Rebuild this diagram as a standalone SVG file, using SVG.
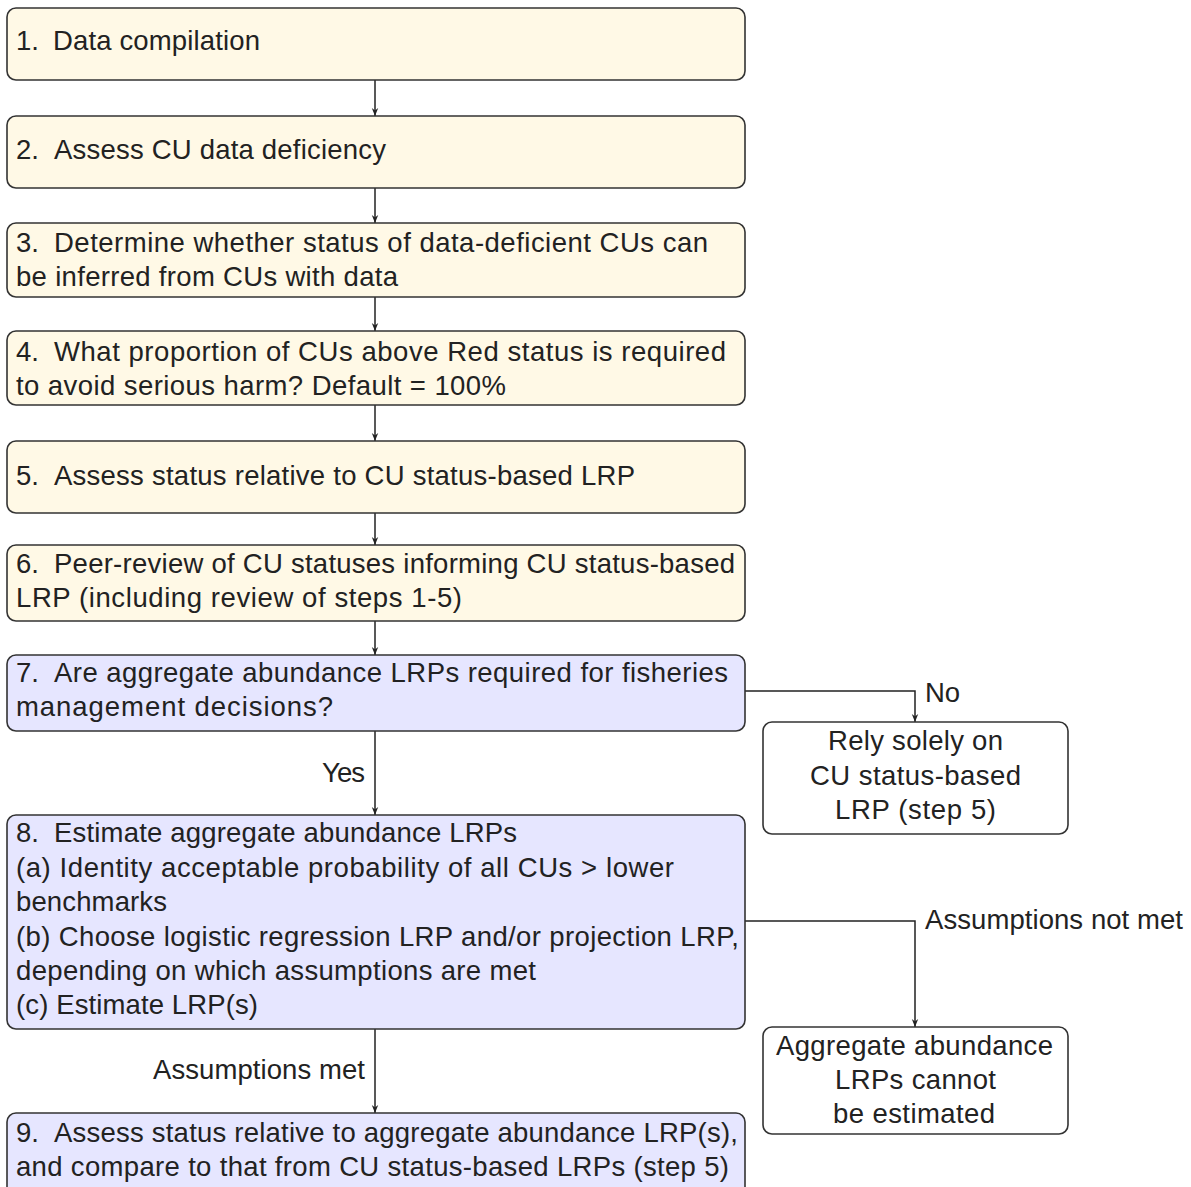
<svg xmlns="http://www.w3.org/2000/svg" width="1191" height="1187" viewBox="0 0 1191 1187">
<defs>
<marker id="ah" viewBox="0 0 10 10" refX="10" refY="5" markerWidth="8" markerHeight="8" markerUnits="userSpaceOnUse" orient="auto">
<path d="M0,1 L10,5 L0,9 L3,5 Z" fill="#222"/>
</marker>
<style>
text{font-family:"Liberation Sans",Arial,sans-serif;font-size:27.5px;fill:#222}
.y{fill:#FFF9E6;stroke:#333;stroke-width:1.6}
.b{fill:#E6E6FF;stroke:#333;stroke-width:1.6}
.w{fill:#fff;stroke:#333;stroke-width:1.6}
.c{fill:none;stroke:#222;stroke-width:1.5;marker-end:url(#ah)}
</style>
</defs>
<rect width="1191" height="1187" fill="#fff"/>
<g id="connectors">
<path class="c" d="M375,80 V116"/>
<path class="c" d="M375,188 V223"/>
<path class="c" d="M375,297 V331"/>
<path class="c" d="M375,405 V441"/>
<path class="c" d="M375,513 V545"/>
<path class="c" d="M375,621 V655"/>
<path class="c" d="M375,731 V815"/>
<path class="c" d="M375,1029 V1113"/>
<path class="c" d="M745,691 H915 V722"/>
<path class="c" d="M745,921 H915 V1027"/>
<text x="925" y="702" textLength="35" lengthAdjust="spacing">No</text>
<text x="322" y="782" textLength="43" lengthAdjust="spacing">Yes</text>
<text x="925" y="929" textLength="258" lengthAdjust="spacing">Assumptions not met</text>
<text x="153" y="1079" textLength="212" lengthAdjust="spacing">Assumptions met</text>
</g>
<g id="n1"><rect class="y" x="7" y="8" width="738" height="72" rx="9"/><text x="16" y="50">1.</text><text x="53" y="50" textLength="207" lengthAdjust="spacing">Data compilation</text></g>
<g id="n2"><rect class="y" x="7" y="116" width="738" height="72" rx="9"/><text x="16" y="159">2.</text><text x="54" y="159" textLength="332" lengthAdjust="spacing">Assess CU data deficiency</text></g>
<g id="n3"><rect class="y" x="7" y="223" width="738" height="74" rx="9"/><text x="16" y="252">3.</text><text x="54" y="252" textLength="654" lengthAdjust="spacing">Determine whether status of data-deficient CUs can</text><text x="16" y="286" textLength="382" lengthAdjust="spacing">be inferred from CUs with data</text></g>
<g id="n4"><rect class="y" x="7" y="331" width="738" height="74" rx="9"/><text x="16" y="361">4.</text><text x="54" y="361" textLength="672" lengthAdjust="spacing">What proportion of CUs above Red status is required</text><text x="16" y="395" textLength="490" lengthAdjust="spacing">to avoid serious harm?  Default = 100%</text></g>
<g id="n5"><rect class="y" x="7" y="441" width="738" height="72" rx="9"/><text x="16" y="485">5.</text><text x="54" y="485" textLength="581" lengthAdjust="spacing">Assess status relative to CU status-based LRP</text></g>
<g id="n6"><rect class="y" x="7" y="545" width="738" height="76" rx="9"/><text x="16" y="573">6.</text><text x="54" y="573" textLength="681" lengthAdjust="spacing">Peer-review of CU statuses informing CU status-based</text><text x="16" y="607" textLength="446" lengthAdjust="spacing">LRP (including review of steps 1-5)</text></g>
<g id="n7"><rect class="b" x="7" y="655" width="738" height="76" rx="9"/><text x="16" y="682">7.</text><text x="54" y="682" textLength="674" lengthAdjust="spacing">Are aggregate abundance LRPs required for fisheries</text><text x="16" y="716" textLength="317" lengthAdjust="spacing">management decisions?</text></g>
<g id="n7no"><rect class="w" x="763" y="722" width="305" height="112" rx="9"/><text x="828" y="750" textLength="175" lengthAdjust="spacing">Rely solely on</text><text x="810" y="785" textLength="211" lengthAdjust="spacing">CU status-based</text><text x="835" y="819" textLength="161" lengthAdjust="spacing">LRP (step 5)</text></g>
<g id="n8"><rect class="b" x="7" y="815" width="738" height="214" rx="9"/>
<text x="16" y="842">8.</text><text x="54" y="842" textLength="463" lengthAdjust="spacing">Estimate aggregate abundance LRPs</text>
<text x="16" y="877" textLength="658" lengthAdjust="spacing">(a) Identity acceptable probability of all CUs &gt; lower</text>
<text x="16" y="911" textLength="151" lengthAdjust="spacing">benchmarks</text>
<text x="16" y="946" textLength="723" lengthAdjust="spacing">(b) Choose logistic regression LRP and/or projection LRP,</text>
<text x="16" y="980" textLength="520" lengthAdjust="spacing">depending on which assumptions are met</text>
<text x="16" y="1014" textLength="242" lengthAdjust="spacing">(c) Estimate LRP(s)</text></g>
<g id="n8no"><rect class="w" x="763" y="1027" width="305" height="107" rx="9"/><text x="776" y="1055" textLength="277" lengthAdjust="spacing">Aggregate abundance</text><text x="835" y="1089" textLength="161" lengthAdjust="spacing">LRPs cannot</text><text x="833" y="1123" textLength="162" lengthAdjust="spacing">be estimated</text></g>
<g id="n9"><rect class="b" x="7" y="1113" width="738" height="90" rx="9"/><text x="16" y="1142">9.</text><text x="54" y="1142" textLength="684" lengthAdjust="spacing">Assess status relative to aggregate abundance LRP(s),</text><text x="16" y="1176" textLength="713" lengthAdjust="spacing">and compare to that from CU status-based LRPs (step 5)</text></g>
</svg>
